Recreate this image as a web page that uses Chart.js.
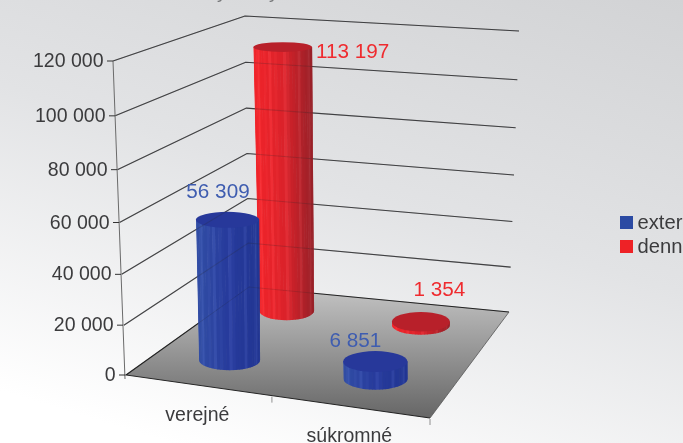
<!DOCTYPE html>
<html>
<head>
<meta charset="utf-8">
<style>
  html, body { margin: 0; padding: 0; overflow: hidden; }
  body { width: 683px; height: 443px; background: linear-gradient(197deg, #d2d3d5 0%, #e2e3e5 45%, #ffffff 92%); }
  canvas { display: block; }
</style>
<script src="https://cdn.jsdelivr.net/npm/chart.js@4/dist/chart.umd.min.js"></script>
</head>
<body>
<canvas id="chart" width="683" height="443"></canvas>
<script>
const categories = ['verejné', 'súkromné'];
const seriesNames = ['externé', 'denné'];
const externeValues = [56309, 6851];
const denneValues = [113197, 1354];
const tickValues = [0, 20000, 40000, 60000, 80000, 100000, 120000];

const FONT = '"Liberation Sans", Arial, sans-serif';
const TEXT = '#3b3b3d';
const fmt = v => String(v).replace(/\B(?=(\d{3})+$)/g, ' ');

// floor corners
const FL = [126, 375], FR = [430, 418], BR = [509, 312], BL = [249, 287];
// wall corners at the top of the value range
const TOP_LEFT = [113], TOP_BACK = [245, 16], TOP_RIGHT = [519, 31];

// depth of each series on the floor (externé in front, denné behind)
const seriesDepth = [0.275, 0.805];
const seriesStyle = [
  { key: '#2b4aa3', top: '#27389a', label: '#3f5db0', stops: [[50, 78, 165], [38, 58, 156], [34, 54, 146]] },
  { key: '#ee2226', top: '#b8202a', label: '#ef2b2f', stops: [[240, 36, 42], [218, 34, 42], [150, 32, 40]] }
];
// label offset from the centre of the cylinder top: [series][category]
const labelShift = [
  [[-9.5, -22], [-20, -15]],
  [[70, 11], [18.5, -26]]
];

function floorPoint(u, v) {
  const x = FL[0] * (1 - u) * (1 - v) + FR[0] * u * (1 - v) + BR[0] * u * v + BL[0] * (1 - u) * v;
  const y = FL[1] * (1 - u) * (1 - v) + FR[1] * u * (1 - v) + BR[1] * u * v + BL[1] * (1 - u) * v;
  return [x, y];
}

// perspective sag of the value axis, strongest mid height
const sag = (f, a) => 4 * f * (1 - f) * a;

function drawWalls(ctx, yScale, alpha) {
  const y0 = yScale.getPixelForValue(0);
  const yTop = yScale.getPixelForValue(tickValues[tickValues.length - 1]);
  ctx.save();
  ctx.globalAlpha = alpha;
  ctx.strokeStyle = '#2b2b2d';
  ctx.lineWidth = 1.1;
  tickValues.forEach(v => {
    if (v === 0) return;
    const py = yScale.getPixelForValue(v);
    const f = (y0 - py) / (y0 - yTop);
    ctx.beginPath();
    ctx.moveTo(FL[0] + (TOP_LEFT[0] - FL[0]) * f, py + sag(f, 4.5));
    ctx.lineTo(BL[0] + (TOP_BACK[0] - BL[0]) * f, BL[1] + (TOP_BACK[1] - BL[1]) * f + sag(f, 2));
    ctx.lineTo(BR[0] + (TOP_RIGHT[0] - BR[0]) * f, BR[1] + (TOP_RIGHT[1] - BR[1]) * f + sag(f, 3.5));
    ctx.stroke();
  });
  ctx.restore();
}

function drawFloor(ctx) {
  const g = ctx.createLinearGradient(0, 287, 0, 418);
  g.addColorStop(0, '#c4c4c4');
  g.addColorStop(1, '#666666');
  ctx.beginPath();
  ctx.moveTo(FL[0], FL[1]);
  ctx.lineTo(FR[0], FR[1]);
  ctx.lineTo(BR[0], BR[1]);
  ctx.lineTo(BL[0], BL[1]);
  ctx.closePath();
  ctx.fillStyle = g;
  ctx.fill();
  ctx.strokeStyle = '#232323';
  ctx.lineWidth = 1.1;
  ctx.beginPath();
  ctx.moveTo(FR[0], FR[1]);
  ctx.lineTo(FL[0], FL[1]);
  ctx.lineTo(BL[0], BL[1]);
  ctx.lineTo(BR[0], BR[1]);
  ctx.stroke();
  ctx.strokeStyle = '#555';
  ctx.lineWidth = 0.8;
  ctx.beginPath();
  ctx.moveTo(BR[0], BR[1]);
  ctx.lineTo(FR[0], FR[1]);
  ctx.stroke();
}

function shade(stops, f) {
  const p = f * (stops.length - 1);
  const i = Math.min(Math.floor(p), stops.length - 2);
  const t = p - i;
  return stops[i].map((c, k) => Math.round(c + (stops[i + 1][k] - c) * t));
}

function drawCylinder(ctx, base, h, rxB, style) {
  const bx = base[0], by = base[1];
  const tx = bx - 0.015 * h, ty = by - h;
  const rxT = rxB * (1 + 0.00027 * h);
  const ryB = 4 + 0.018 * by, ryT = 4 + 0.018 * ty;

  ctx.save();
  ctx.beginPath();
  ctx.moveTo(tx - rxT, ty);
  ctx.lineTo(bx - rxB, by);
  ctx.ellipse(bx, by, rxB, ryB, 0, Math.PI, 0, true);
  ctx.lineTo(tx + rxT, ty);
  ctx.closePath();
  ctx.clip();
  const N = 30;
  for (let i = 0; i < N; i++) {
    const a0 = -Math.cos(Math.PI * i / N), a1 = -Math.cos(Math.PI * (i + 1) / N);
    const c = shade(style.stops, (a0 + a1 + 2) / 4);
    const lift = (i * 7) % 5 === 0 ? 11 : (i * 3) % 4 === 0 ? 4 : 0;
    ctx.fillStyle = `rgb(${c.map(v => Math.min(255, v + lift)).join(',')})`;
    ctx.beginPath();
    ctx.moveTo(tx + a0 * rxT, ty - ryT - 2);
    ctx.lineTo(tx + a1 * rxT + 0.6, ty - ryT - 2);
    ctx.lineTo(bx + a1 * rxB + 0.6, by + ryB + 2);
    ctx.lineTo(bx + a0 * rxB, by + ryB + 2);
    ctx.closePath();
    ctx.fill();
  }
  ctx.restore();

  ctx.fillStyle = style.top;
  ctx.beginPath();
  ctx.ellipse(tx, ty, rxT, ryT, 0, 0, Math.PI * 2);
  ctx.fill();
  return [tx, ty];
}

const cylinderPlugin = {
  id: 'cylinders',
  beforeDatasetsDraw(chart) {
    const { ctx, scales: { x, y } } = chart;
    const y0 = y.getPixelForValue(0);
    const yMax = y.getPixelForValue(tickValues[tickValues.length - 1]);

    // bits of the cropped title left at the top edge
    ctx.save();
    ctx.fillStyle = '#77787a';
    ctx.font = '19px ' + FONT;
    ctx.fillText('y', 217, -2);
    ctx.fillText('y', 269, -2);
    ctx.restore();

    drawWalls(ctx, y, 0.85);

    // left axis and ticks
    ctx.save();
    ctx.strokeStyle = '#6a6a6a';
    ctx.beginPath();
    ctx.moveTo(TOP_LEFT[0], yMax);
    ctx.lineTo(FL[0] - 1, y0 + 4);
    ctx.stroke();
    ctx.strokeStyle = '#333';
    ctx.fillStyle = TEXT;
    ctx.font = '19.5px ' + FONT;
    ctx.textAlign = 'right';
    ctx.textBaseline = 'alphabetic';
    tickValues.forEach(v => {
      const py = y.getPixelForValue(v);
      const f = (y0 - py) / (y0 - yMax);
      const ax = FL[0] - 1 + (TOP_LEFT[0] - FL[0] + 1) * f;
      const ty = py + sag(f, 4.5);
      ctx.beginPath();
      ctx.moveTo(ax - 6, ty);
      ctx.lineTo(ax, ty);
      ctx.stroke();
      ctx.fillText(fmt(v), ax - 9.5, ty + 6);
    });
    ctx.restore();

    drawFloor(ctx);

    // category ticks and labels along the front floor edge
    ctx.save();
    ctx.strokeStyle = '#777';
    [0.48, 1].forEach(u => {
      const p = floorPoint(u, 0);
      ctx.beginPath();
      ctx.moveTo(p[0], p[1] + 1);
      ctx.lineTo(p[0], p[1] + 7);
      ctx.stroke();
    });
    ctx.fillStyle = TEXT;
    ctx.font = '19.5px ' + FONT;
    ctx.textAlign = 'center';
    categories.forEach((name, i) => {
      const u = (x.getPixelForTick(i) - x.left) / x.width - 0.012;
      const p = floorPoint(u, 0);
      ctx.fillText(name, p[0] - 1, p[1] + 35.5);
    });
    ctx.restore();

    // cylinders, back row first
    const tops = [];
    for (let s = chart.data.datasets.length - 1; s >= 0; s--) {
      const ds = chart.data.datasets[s];
      const v = seriesDepth[s];
      for (let c = 0; c < ds.data.length; c++) {
        const u = (x.getPixelForTick(c) - x.left) / x.width - 0.006 - 0.018 * v;
        const scale = 0.975 - 0.114 * v + 0.03 * u;
        const h = (y0 - y.getPixelForValue(ds.data[c])) * scale;
        const rx = 31.35 + 3 * u - 5.7 * v;
        const top = drawCylinder(ctx, floorPoint(u, v), h, rx, seriesStyle[s]);
        tops.push({ s, c, top, value: ds.data[c] });
      }
    }

    // grid lines and floor edge show faintly through the cylinders
    drawWalls(ctx, y, 0.22);
    ctx.save();
    ctx.globalAlpha = 0.22;
    ctx.strokeStyle = '#232323';
    ctx.beginPath();
    ctx.moveTo(FL[0], FL[1]);
    ctx.lineTo(BL[0], BL[1]);
    ctx.lineTo(BR[0], BR[1]);
    ctx.stroke();
    ctx.restore();

    // value labels
    ctx.save();
    ctx.font = '20.7px ' + FONT;
    ctx.textAlign = 'center';
    tops.forEach(t => {
      const d = labelShift[t.s][t.c];
      ctx.fillStyle = seriesStyle[t.s].label;
      ctx.fillText(fmt(t.value), t.top[0] + d[0], t.top[1] + d[1]);
    });
    ctx.restore();

    // legend, runs off the right edge as in the source
    ctx.save();
    ctx.font = '20.2px ' + FONT;
    ctx.textAlign = 'left';
    chart.data.datasets.forEach((ds, i) => {
      const ly = 216 + i * 24;
      ctx.fillStyle = seriesStyle[i].key;
      ctx.fillRect(620, ly, 13, 13);
      ctx.fillStyle = TEXT;
      ctx.fillText(ds.label, 637.5, ly + 13);
    });
    ctx.restore();
  }
};

new Chart(document.getElementById('chart'), {
  type: 'bar',
  data: {
    labels: categories,
    datasets: [
      { label: seriesNames[0], data: externeValues, backgroundColor: 'transparent' },
      { label: seriesNames[1], data: denneValues, backgroundColor: 'transparent' }
    ]
  },
  options: {
    responsive: false,
    animation: false,
    events: [],
    layout: { padding: { left: 126, right: 253, top: 61, bottom: 68 } },
    plugins: { legend: { display: false }, title: { display: false }, tooltip: { enabled: false } },
    scales: {
      x: {
        afterFit: s => { s.height = 0; },
        ticks: { display: false }, grid: { display: false }, border: { display: false }
      },
      y: {
        min: 0, max: 120000,
        afterFit: s => { s.width = 0; },
        ticks: { display: false, stepSize: 20000 },
        grid: { display: false }, border: { display: false }
      }
    }
  },
  plugins: [cylinderPlugin]
});
</script>
</body>
</html>
